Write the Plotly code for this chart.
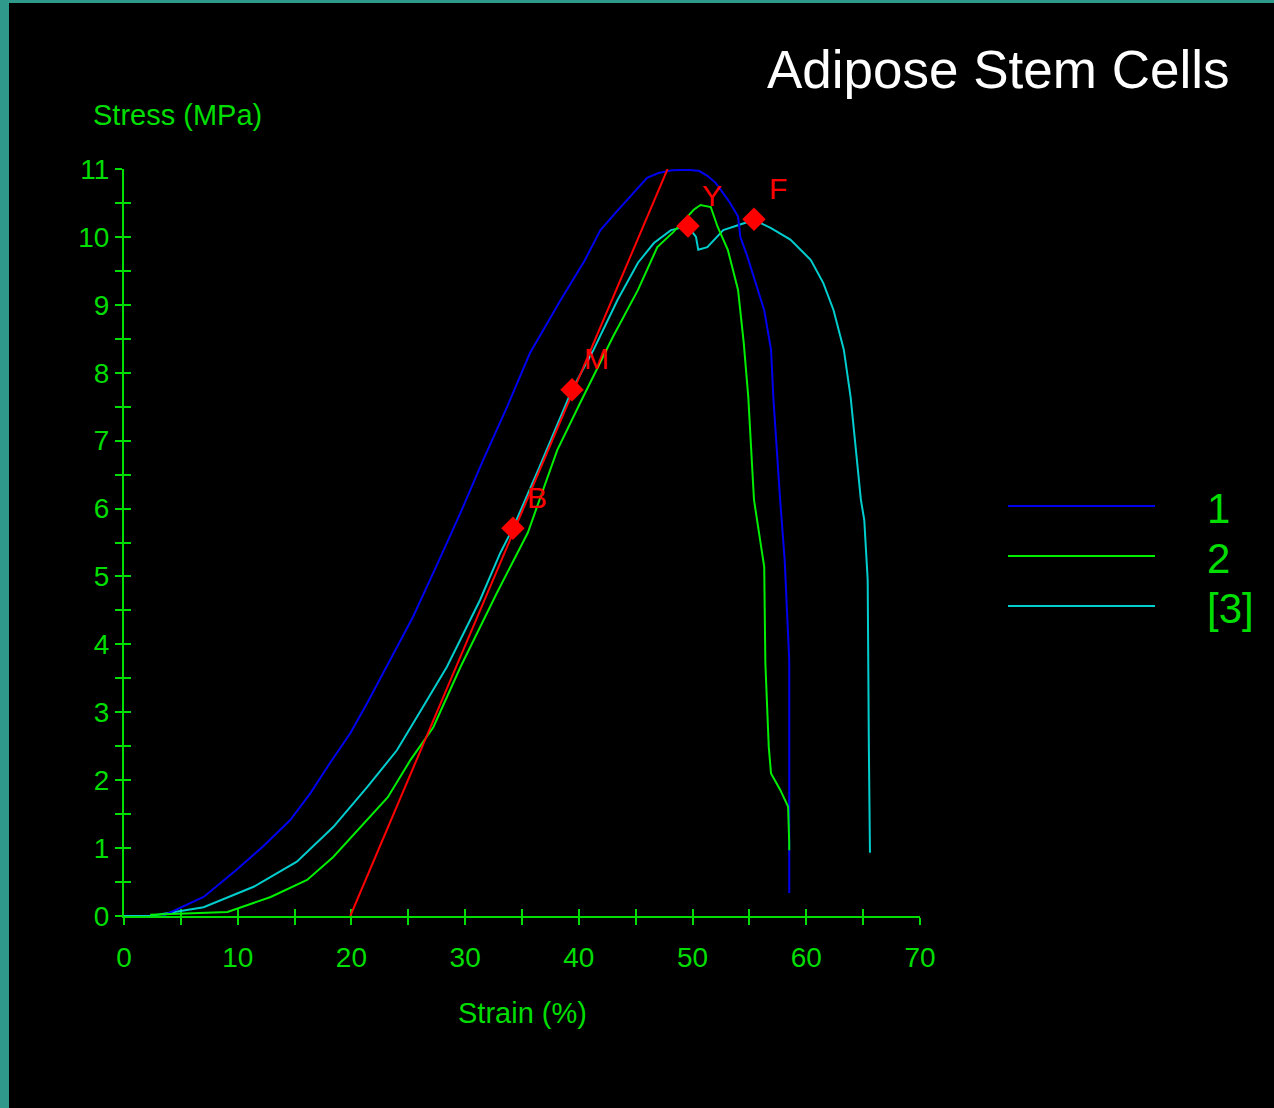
import plotly.graph_objects as go

# ---------------- data ----------------
strain_1 = [3.4, 7.0, 9.9, 12.2, 14.6, 16.4, 18.1, 19.9, 21.4, 22.8, 24.3, 25.4, 27.6, 29.6,
            31.6, 33.7, 35.7, 38.4, 40.5, 41.9, 43.2, 44.3, 45.2, 46.0, 47.0, 48.2, 49.6,
            50.6, 51.3, 52.0, 52.5, 53.3, 54.0, 54.2, 54.8, 55.4, 56.3, 56.9, 57.1, 57.7,
            58.1, 58.5, 58.5]
stress_1 = [0.0, 0.28, 0.68, 1.02, 1.41, 1.81, 2.25, 2.69, 3.14, 3.58, 4.06, 4.40, 5.20, 5.94,
            6.72, 7.50, 8.29, 9.07, 9.65, 10.1, 10.35, 10.55, 10.73, 10.87, 10.94, 10.98, 10.99,
            10.97, 10.9, 10.8, 10.69, 10.5, 10.3, 10.0, 9.72, 9.41, 8.92, 8.34, 7.64, 6.13,
            5.24, 3.77, 0.34]

strain_2 = [2.3, 9.1, 12.9, 16.1, 18.4, 20.8, 23.2, 25.2, 27.2, 29.6, 32.8, 35.5, 38.1, 40.1,
            43.0, 45.2, 46.9, 48.3, 50.1, 50.7, 51.6, 52.2, 53.1, 54.0, 54.5, 54.9, 55.4,
            56.3, 56.4, 56.7, 56.9, 57.7, 58.4, 58.5, 58.5]
stress_2 = [0.02, 0.06, 0.28, 0.53, 0.87, 1.31, 1.75, 2.30, 2.78, 3.67, 4.76, 5.64, 6.86, 7.55,
            8.53, 9.22, 9.85, 10.07, 10.4, 10.47, 10.44, 10.15, 9.81, 9.22, 8.44, 7.64, 6.13,
            5.14, 3.73, 2.49, 2.1, 1.86, 1.61, 1.08, 0.97]

strain_3 = [0, 2.3, 7.0, 11.4, 15.2, 18.4, 21.4, 24.0, 26.3, 28.4, 31.3, 33.1, 34.2, 36.5,
            39.4, 41.3, 43.4, 45.2, 46.6, 48.1, 49.6, 50.3, 50.5, 51.3, 52.7, 54.2, 55.4,
            56.9, 58.6, 60.4, 61.5, 62.4, 63.3, 63.9, 64.8, 65.1, 65.4, 65.5, 65.6]
stress_3 = [0, 0, 0.13, 0.43, 0.8, 1.31, 1.9, 2.44, 3.08, 3.67, 4.65, 5.35, 5.71, 6.6,
            7.75, 8.34, 9.07, 9.62, 9.91, 10.1, 10.16, 10.0, 9.81, 9.85, 10.1, 10.18, 10.25,
            10.13, 9.96, 9.66, 9.32, 8.92, 8.34, 7.64, 6.13, 5.83, 4.95, 2.52, 0.93]

modulus_x = [19.9, 47.8]
modulus_y = [0.0, 11.0]

point_x = [34.2, 39.4, 49.6, 55.4]
point_y = [5.71, 7.75, 10.16, 10.26]
point_labels = ["B", "M", "Y", "F"]

series_names = ["1", "2", "[3]"]
x_ticks = [0, 10, 20, 30, 40, 50, 60, 70]
y_ticks = list(range(0, 12))

# ---------------- style ----------------
GREEN_AX = "#00DD00"
BLUE = "#0000EE"
GREEN = "#00EE00"
CYAN = "#00CDCD"
RED = "#FF0000"
TEAL = "#2F998C"
FONT = "Liberation Sans, Arial, sans-serif"
colors = [BLUE, GREEN, CYAN]

W, H = 1274, 1108
L, R, T, B = 124, 920, 169, 916   # plot area in pixels


def px_x(p):
    return (p - L) / (R - L)


def px_y(p):
    return (B - p) / (B - T)


fig = go.Figure()

fig.add_trace(go.Scatter(x=strain_3, y=stress_3, mode="lines", line=dict(color=CYAN, width=2),
                         showlegend=False))
fig.add_trace(go.Scatter(x=strain_1, y=stress_1, mode="lines", line=dict(color=BLUE, width=2),
                         showlegend=False))
fig.add_trace(go.Scatter(x=strain_2, y=stress_2, mode="lines", line=dict(color=GREEN, width=2),
                         showlegend=False))
fig.add_trace(go.Scatter(x=modulus_x, y=modulus_y, mode="lines", line=dict(color=RED, width=2),
                         showlegend=False))
fig.add_trace(go.Scatter(x=point_x, y=point_y, mode="markers",
                         marker=dict(symbol="diamond", size=18, color=RED, line=dict(width=0)),
                         cliponaxis=False, showlegend=False))
# empty trace to activate the overlay axes (inside tick marks)
fig.add_trace(go.Scatter(x=[], y=[], xaxis="x2", yaxis="y2", showlegend=False))

tickfont = dict(family=FONT, size=28, color=GREEN_AX)

fig.update_layout(
    width=W, height=H,
    margin=dict(l=L, r=W - R, t=T, b=H - B, pad=0),
    paper_bgcolor="black", plot_bgcolor="black",
    xaxis=dict(range=[0, 70], tickmode="array", tickvals=x_ticks,
               ticktext=[str(v) for v in x_ticks],
               showline=True, linecolor=GREEN_AX, linewidth=2,
               ticks="outside", ticklen=7, tickwidth=2, tickcolor=GREEN_AX,
               minor=dict(dtick=5, ticks="outside", ticklen=7, tickwidth=2, tickcolor=GREEN_AX),
               showgrid=False, zeroline=False, tickfont=tickfont, ticklabelstandoff=8,
               layer="below traces", fixedrange=True),
    yaxis=dict(range=[0, 11], tickmode="array", tickvals=y_ticks,
               ticktext=[str(v) for v in y_ticks],
               showline=True, linecolor=GREEN_AX, linewidth=2,
               ticks="outside", ticklen=7, tickwidth=2, tickcolor=GREEN_AX,
               minor=dict(dtick=0.5, ticks="outside", ticklen=7, tickwidth=2, tickcolor=GREEN_AX),
               showgrid=False, zeroline=False, tickfont=tickfont, ticklabelstandoff=0,
               layer="below traces", fixedrange=True),
    xaxis2=dict(range=[0, 70], overlaying="x", anchor="y2", side="bottom",
                tickmode="linear", tick0=0, dtick=5, ticks="inside", ticklen=7, tickwidth=2,
                tickcolor=GREEN_AX, showticklabels=False, showline=False, showgrid=False,
                zeroline=False, layer="below traces"),
    yaxis2=dict(range=[0, 11], overlaying="y", anchor="x2", side="left",
                tickmode="linear", tick0=0, dtick=0.5, ticks="inside", ticklen=7, tickwidth=2,
                tickcolor=GREEN_AX, showticklabels=False, showline=False, showgrid=False,
                zeroline=False, layer="below traces"),
    showlegend=False,
)

# teal frame (left and top edges)
fig.add_shape(type="rect", xref="paper", yref="paper",
              x0=px_x(0), x1=px_x(9), y0=px_y(H), y1=px_y(0),
              fillcolor=TEAL, line=dict(width=0), layer="above")
fig.add_shape(type="rect", xref="paper", yref="paper",
              x0=px_x(0), x1=px_x(W), y0=px_y(3), y1=px_y(0),
              fillcolor=TEAL, line=dict(width=0), layer="above")

# point labels
for x, y, t in zip(point_x, point_y, point_labels):
    fig.add_annotation(x=x, y=y, text=t, showarrow=False, xshift=24, yshift=31,
                       font=dict(family=FONT, size=30, color=RED))

# axis titles
fig.add_annotation(xref="paper", yref="paper", x=px_x(177), y=px_y(115), text="Stress (MPa)",
                   showarrow=False, xanchor="center", yanchor="middle",
                   font=dict(family=FONT, size=29, color=GREEN_AX))
fig.add_annotation(xref="paper", yref="paper", x=0.5, y=px_y(1013), text="Strain (%)",
                   showarrow=False, xanchor="center", yanchor="middle",
                   font=dict(family=FONT, size=29, color=GREEN_AX))

# title
fig.add_annotation(xref="paper", yref="paper", x=px_x(1231), y=px_y(70),
                   text="Adipose Stem Cells", showarrow=False, xanchor="right", yanchor="middle",
                   font=dict(family=FONT, size=53, color="white"))

# manual legend
legend_rows_px = [506, 556, 606]
for name, col, ypx in zip(series_names, colors, legend_rows_px):
    fig.add_shape(type="line", xref="paper", yref="paper",
                  x0=px_x(1008), x1=px_x(1155), y0=px_y(ypx), y1=px_y(ypx),
                  line=dict(color=col, width=2))
    fig.add_annotation(xref="paper", yref="paper", x=px_x(1205), y=px_y(ypx + 2), text=name,
                       showarrow=False, xanchor="left", yanchor="middle",
                       font=dict(family=FONT, size=42, color=GREEN_AX))

fig.write_html("out.html", config={"displayModeBar": False},
               post_script="document.body.style.margin='0';document.body.style.background='black';")
